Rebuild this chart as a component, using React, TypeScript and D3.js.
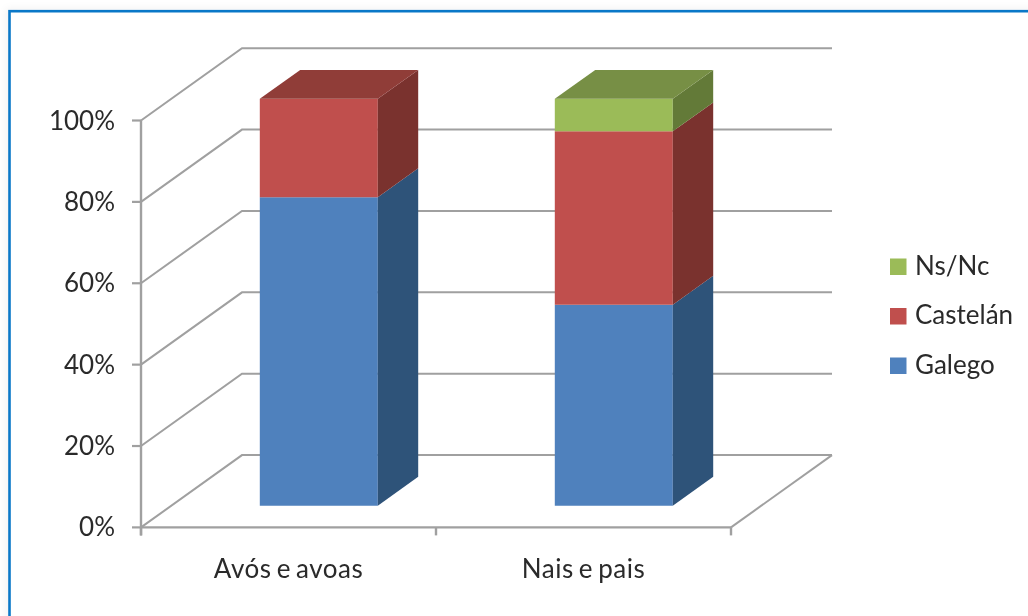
import React from 'react';
import * as d3 from 'd3';

const categories = ['Avós e avoas', 'Nais e pais'];
const seriesNames = ['Galego', 'Castelán', 'Ns/Nc'];
const galego = [75.8, 49.4];
const castelan = [24.2, 42.6];
const nsnc = [0, 8];
const yTicks = [0, 20, 40, 60, 80, 100];

const faceColors = ['#4f81bd', '#c0504d', '#9bbb59'];
const sideColors = ['#2f5279', '#7a302d', '#647a37'];
const topColors = ['#3a6596', '#903c39', '#778f45'];

const plotLeft = 141;
const plotRight = 731;
const plotBottom = 527.4;
const plotTop = 120.5;
const depthX = 101;
const depthY = -72.3;
const gridColor = '#a0a0a0';
const textColor = '#2b2b2b';
const fontFamily = 'Lato, sans-serif';

const x = d3.scaleBand<string>().domain(categories).range([plotLeft, plotRight]).paddingInner(0).paddingOuter(0);
const y = d3.scaleLinear().domain([0, 100]).range([plotBottom, plotTop]);

// bars sit between 30% and 70% of the chart depth
const barWidth = x.bandwidth() * 0.4;
const nearD = 0.3;
const farD = 0.7;
const shift = (d: number, px: number, py: number): [number, number] => [px + depthX * d, py + depthY * d];
const poly = d3.line();

export default function App() {
  const stack = d3
    .stack<number>()
    .keys(['0', '1', '2'])
    .value((i, key) => [galego, castelan, nsnc][+key][i])(categories.map((_, i) => i));

  return (
    <svg width={1028} height={616} style={{ position: 'absolute', left: 0, top: 0, background: '#fff' }}>
      <defs>
        <filter id="soft" x="-2%" y="-2%" width="104%" height="104%">
          <feGaussianBlur stdDeviation="0.45" />
        </filter>
        <filter id="shade" x="-3%" y="-3%" width="106%" height="106%">
          <feGaussianBlur stdDeviation="4" />
        </filter>
      </defs>

      {/* frame */}
      <path d="M9 622V12H1034" fill="none" stroke="#000" strokeOpacity={0.12} strokeWidth={3} filter="url(#shade)" />
      <rect x={9.5} y={11.2} width={1030} height={620} fill="#fff" stroke="#0a78c8" strokeWidth={2.6} />

      <g filter="url(#soft)">
        {/* walls and floor */}
        {yTicks.map(t => {
          const [bx, by] = shift(1, plotLeft, y(t));
          return (
            <g key={t} fill="none" stroke={gridColor} strokeWidth={2}>
              <path d={poly([[plotLeft, y(t)], [bx, by], [bx + (plotRight - plotLeft), by]]) ?? ''} />
              <line x1={plotLeft - 9} x2={plotLeft} y1={y(t)} y2={y(t)} strokeWidth={2.2} />
            </g>
          );
        })}
        <path
          d={poly([[plotRight, plotBottom], [plotRight + depthX, plotBottom + depthY]]) ?? ''}
          fill="none"
          stroke={gridColor}
          strokeWidth={2}
        />
        <line x1={plotLeft} x2={plotLeft} y1={plotTop} y2={plotBottom + 8} stroke={gridColor} strokeWidth={2.4} />
        <line x1={plotLeft} x2={plotRight} y1={plotBottom} y2={plotBottom} stroke={gridColor} strokeWidth={2.4} />
        {[...categories, ''].map((c, i) => {
          const tx = plotLeft + i * x.bandwidth();
          return <line key={i} x1={tx} x2={tx} y1={plotBottom} y2={plotBottom + 8} stroke={gridColor} strokeWidth={2.4} />;
        })}

        {/* bars */}
        {categories.map((c, i) => {
          const left = (x(c) ?? 0) + (x.bandwidth() - barWidth) / 2;
          const right = left + barWidth;
          const topLayer = stack.filter(s => s[i][1] > s[i][0]).length - 1;
          return (
            <g key={c}>
              {stack.map((s, k) => {
                const [v0, v1] = s[i];
                if (v1 <= v0) return null;
                const f = (px: number, v: number, d: number) => shift(d, px, y(v));
                return (
                  <g key={k}>
                    <path
                      d={`${poly([f(left, v1, nearD), f(right, v1, nearD), f(right, v0, nearD), f(left, v0, nearD)])}Z`}
                      fill={faceColors[k]}
                    />
                    <path
                      d={`${poly([f(right, v1, nearD), f(right, v1, farD), f(right, v0, farD), f(right, v0, nearD)])}Z`}
                      fill={sideColors[k]}
                    />
                    {k === topLayer && (
                      <path
                        d={`${poly([f(left, v1, nearD), f(left, v1, farD), f(right, v1, farD), f(right, v1, nearD)])}Z`}
                        fill={topColors[k]}
                      />
                    )}
                  </g>
                );
              })}
            </g>
          );
        })}

        {/* axis labels */}
        <g fontFamily={fontFamily} fontSize={26} fill={textColor}>
          {yTicks.map(t => (
            <text key={t} x={115} y={y(t) + 9} textAnchor="end">{`${t}%`}</text>
          ))}
          {categories.map(c => (
            <text
              key={c}
              x={(x(c) ?? 0) + x.bandwidth() / 2}
              y={578}
              textAnchor="middle"
              letterSpacing={0.5}
              wordSpacing={-2}
            >
              {c}
            </text>
          ))}

          {/* legend */}
          {seriesNames.map((name, k) => {
            const ly = 365.5 - k * 49.5;
            return (
              <g key={name}>
                <rect x={890} y={ly - 8} width={16.5} height={16.5} fill={faceColors[k]} />
                <text x={915} y={ly + 8}>
                  {name}
                </text>
              </g>
            );
          })}
        </g>
      </g>
    </svg>
  );
}
